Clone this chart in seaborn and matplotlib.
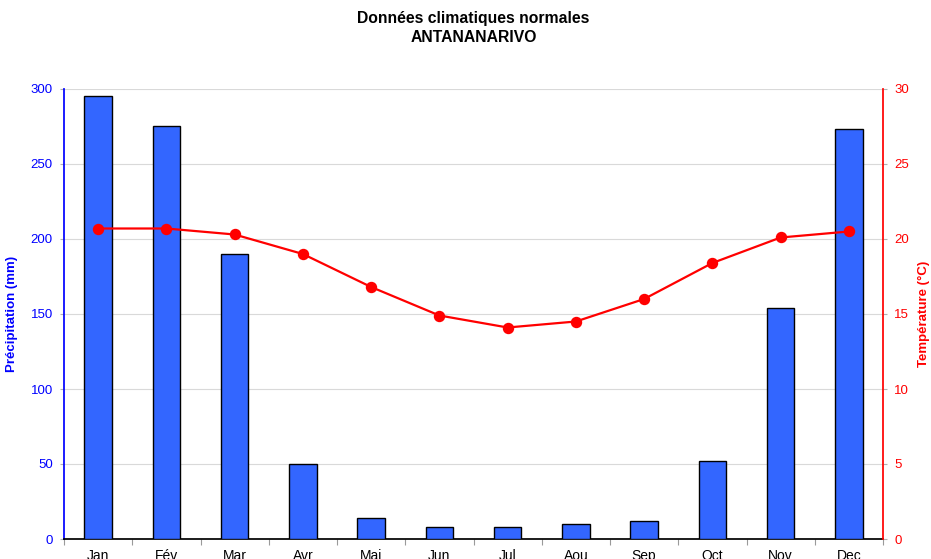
import numpy as np
import pandas as pd
import matplotlib
matplotlib.use("Agg")
import matplotlib.pyplot as plt
import seaborn as sns
from matplotlib.ticker import MultipleLocator, FixedLocator

sns.set_theme(style="white")
plt.rcParams["font.family"] = ["Liberation Sans", "DejaVu Sans"]
plt.rcParams["text.color"] = "black"

months = ["Jan", "Fév", "Mar", "Avr", "Mai", "Jun", "Jul", "Aou", "Sep", "Oct", "Nov", "Dec"]
precip_mm = [295, 275, 190, 50, 14, 8, 8, 10, 12, 52, 154, 273]
temp_c = [20.7, 20.7, 20.3, 19.0, 16.8, 14.9, 14.1, 14.5, 16.0, 18.4, 20.1, 20.5]

df = pd.DataFrame({"mois": months, "precip": precip_mm, "temp": temp_c})

fig = plt.figure(figsize=(9.31, 5.59), dpi=100)
ax = fig.add_axes([64 / 931, 1 - 539 / 559, (883 - 64) / 931, (539 - 89) / 559])

sns.barplot(data=df, x="mois", y="precip", ax=ax, color="#3366ff", saturation=1,
            width=0.4, edgecolor="black", linewidth=1.0, zorder=3)

ax2 = ax.twinx()
sns.pointplot(data=df, x="mois", y="temp", ax=ax2, color="#ff0000",
              markers="o", linestyles="-", markersize=7, linewidth=1.6)

ax.set_xlim(-0.5, len(months) - 0.5)
ax.set_ylim(0, 300)
ax2.set_ylim(0, 30)
ax.yaxis.set_major_locator(MultipleLocator(50))
ax2.yaxis.set_major_locator(MultipleLocator(5))

ax.grid(axis="y", color="#d9d9d9", linewidth=0.8, zorder=0)
ax.set_axisbelow(True)

# Spines
for s in ["top"]:
    ax.spines[s].set_visible(False)
    ax2.spines[s].set_visible(False)
ax.spines["left"].set_color("#0000ff")
ax2.spines["right"].set_color("#ff0000")
ax2.spines["left"].set_visible(False)
ax.spines["right"].set_visible(False)
ax.spines["bottom"].set_color("black")
ax2.spines["bottom"].set_visible(False)

# X ticks: labels at category centers, tick marks at category boundaries
ax.xaxis.set_minor_locator(FixedLocator(np.arange(-0.5, len(months), 1.0)))
ax.tick_params(axis="x", which="major", length=0, labelsize=10, colors="black", pad=7)
ax.tick_params(axis="x", which="minor", bottom=True, length=4, color="#9a9a9a", width=0.8)
ax.set_xlabel("")
ax2.set_xlabel("")

ax.tick_params(axis="y", left=True, length=3, color="#b0b0b0", width=0.8,
               labelcolor="#0000ff", labelsize=9.5, pad=5)
ax2.tick_params(axis="y", right=True, length=3, color="#b0b0b0", width=0.8,
                labelcolor="#ff0000", labelsize=9.5, pad=5)

ax.set_ylabel("Précipitation (mm)", color="#0000ff", fontsize=9.5, fontweight="bold")
ax2.set_ylabel("Température (°C)", color="#ff0000", fontsize=9.5, fontweight="bold",
               rotation=90)
ax.yaxis.set_label_coords((18 - 64) / 819, 0.5)
ax2.yaxis.set_label_coords((918 - 64) / 819, 0.5)

ax2.set_zorder(ax.get_zorder() + 1)
ax2.patch.set_visible(False)

fig.text(473.5 / 931, 1 - 19 / 559, "Données climatiques normales", ha="center", va="center",
         fontsize=11.3, fontweight="bold", color="black")
fig.text(473.5 / 931, 1 - 38 / 559, "ANTANANARIVO", ha="center", va="center",
         fontsize=11.3, fontweight="bold", color="black")

fig.savefig("out.png", dpi=100)
